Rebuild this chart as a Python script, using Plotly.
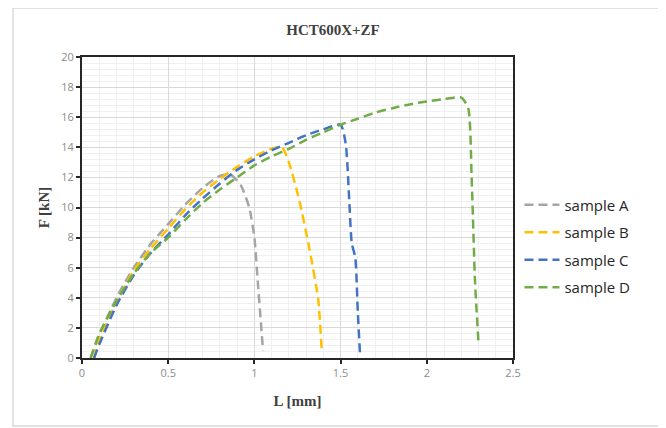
import plotly.graph_objects as go

names = ["sample A", "sample B", "sample C", "sample D"]
colors = ["#a5a5a5", "#ffc000", "#4472c4", "#70ad47"]

xA = [0.05, 0.1, 0.2, 0.3, 0.4, 0.5, 0.6, 0.7, 0.8, 0.86, 0.92, 0.97, 1.0, 1.02, 1.04, 1.05]
yA = [0, 1.5, 4.0, 6.0, 7.6, 8.9, 10.2, 11.3, 12.1, 12.2, 11.5, 10.0, 8.0, 5.0, 2.0, 0.5]

xB = [0.07, 0.1, 0.2, 0.3, 0.4, 0.5, 0.6, 0.7, 0.8, 0.9, 1.0, 1.1, 1.16, 1.2, 1.26, 1.32, 1.37, 1.39]
yB = [0, 1.2, 3.7, 5.8, 7.3, 8.6, 9.9, 11.0, 11.9, 12.7, 13.4, 13.9, 14.0, 13.0, 10.5, 7.2, 3.9, 0.6]

xC = [0.07, 0.1, 0.2, 0.3, 0.4, 0.5, 0.6, 0.7, 0.8, 0.9, 1.0, 1.1, 1.2, 1.3, 1.4, 1.5,
      1.53, 1.55, 1.565, 1.585, 1.60, 1.613]
yC = [0, 0.9, 3.5, 5.5, 7.0, 8.2, 9.5, 10.6, 11.6, 12.5, 13.2, 13.8, 14.3, 14.8, 15.2, 15.5,
      14.2, 10.5, 7.6, 6.7, 3.0, 0.2]

xD = [0.05, 0.1, 0.2, 0.3, 0.4, 0.5, 0.6, 0.7, 0.8, 0.9, 1.0, 1.1, 1.2, 1.3, 1.4, 1.5, 1.6,
      1.7, 1.8, 1.9, 2.0, 2.1, 2.2, 2.24, 2.26, 2.28, 2.30]
yD = [0, 1.6, 3.8, 5.6, 7.0, 8.0, 9.2, 10.3, 11.2, 12.0, 12.8, 13.4, 13.9, 14.5, 15.0, 15.5, 15.9,
      16.3, 16.6, 16.85, 17.05, 17.2, 17.3, 16.6, 12.0, 5.0, 1.0]

xs = [xA, xB, xC, xD]
ys = [yA, yB, yC, yD]

fig = go.Figure()
for n, c, x, y in zip(names, colors, xs, ys):
    fig.add_trace(go.Scatter(x=x, y=y, mode="lines", name=n, legendgroup=n,
                             line=dict(color=c, width=2.5, dash="9px,5px", shape="spline", smoothing=0.6)))

fig.update_layout(
    width=658, height=420,
    margin=dict(l=74, r=153, t=49, b=70),
    paper_bgcolor="white", plot_bgcolor="white",
    title=dict(text="<b>HCT600X+ZF</b>", x=(333 - 8) / 658, xanchor="center", y=1 - (30 - 8) / 420, yanchor="middle",
               font=dict(family="Liberation Serif", size=15, color="#404040")),
    legend=dict(x=1.015, xanchor="left", y=0.372, yanchor="middle",
                font=dict(family="Open Sans", size=15, color="#262626"),
                tracegroupgap=5, itemwidth=35, bgcolor="rgba(0,0,0,0)"),
    showlegend=True,
)
fig.update_xaxes(range=[0, 2.5], dtick=0.5, tick0=0,
                 showline=True, linecolor="#262626", linewidth=2, mirror=True,
                 ticks="outside", ticklen=4, tickcolor="#262626", tickwidth=2,
                 showgrid=True, gridcolor="#d9d9d9", gridwidth=1,
                 minor=dict(dtick=0.1, showgrid=True, gridcolor="#f0f0f0", ticks=""),
                 zeroline=False,
                 tickfont=dict(family="Open Sans", size=11, color="#8c8c8c"),
                 title=dict(text="<b>L [mm]</b>", standoff=16,
                            font=dict(family="Liberation Serif", size=15, color="#404040")))
fig.update_yaxes(range=[0, 20], dtick=2, tick0=0,
                 showline=True, linecolor="#262626", linewidth=2, mirror=True,
                 ticks="outside", ticklen=4, tickcolor="#262626", tickwidth=2,
                 showgrid=True, gridcolor="#d9d9d9", gridwidth=1,
                 minor=dict(dtick=0.4, showgrid=True, gridcolor="#f0f0f0", ticks=""),
                 zeroline=False,
                 tickfont=dict(family="Open Sans", size=11, color="#8c8c8c"),
                 title=dict(text="<b>F [kN]</b>", standoff=8,
                            font=dict(family="Liberation Serif", size=15, color="#404040")))

fig.add_shape(type="rect", xref="paper", yref="paper",
              x0=-0.160, x1=1.343, y0=-0.226, y1=1.163,
              line=dict(color="#d9d9d9", width=1.5), layer="below")

fig.write_html("out.html")
